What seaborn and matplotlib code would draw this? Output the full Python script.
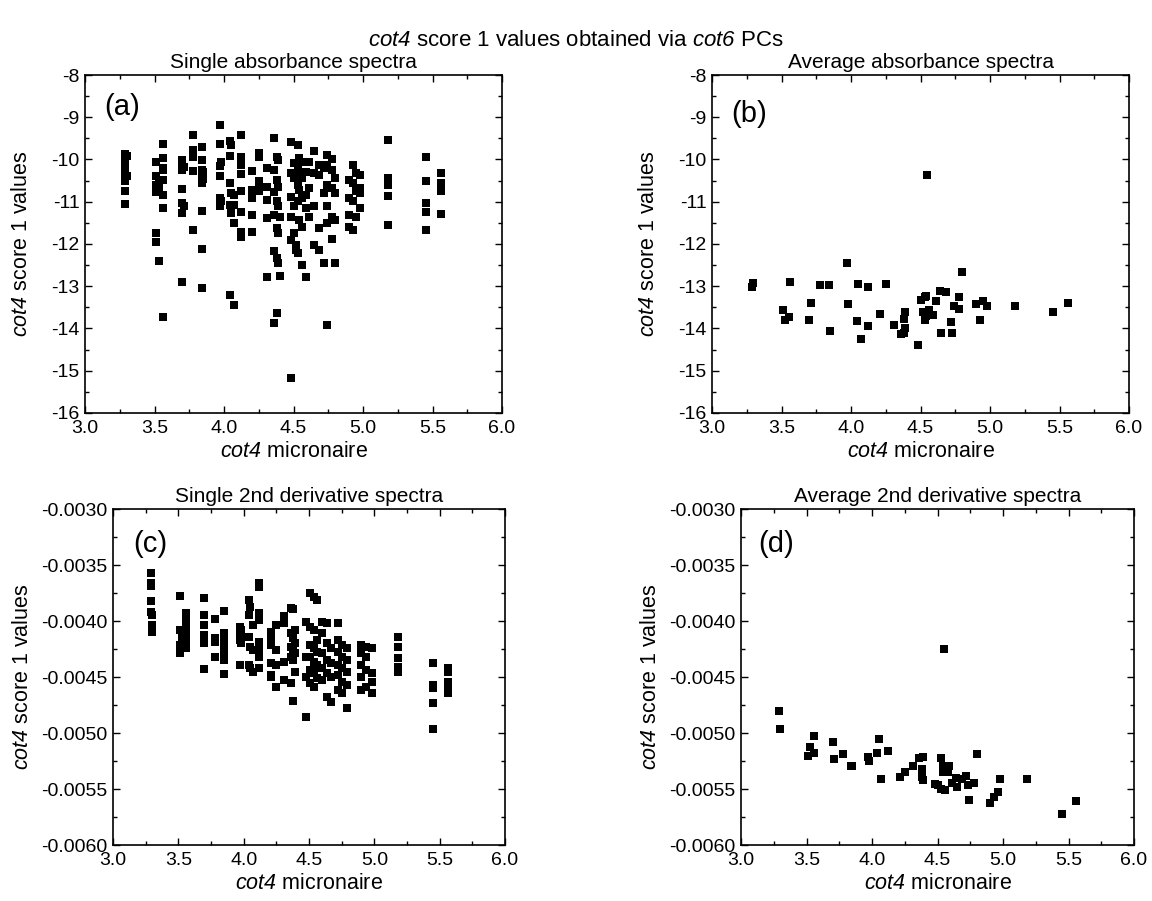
import numpy as np
import pandas as pd
import matplotlib
matplotlib.use("Agg")
import matplotlib.pyplot as plt
import seaborn as sns
from matplotlib.ticker import MultipleLocator, FormatStrFormatter

# ---------------- data ----------------
# (a) single absorbance spectra
single_abs_x = (
    [3.29] * 8 + [3.30] * 2 + [3.51] * 6 + [3.53] * 3 + [3.56] * 8 + [3.70] * 7 + [3.71] * 2
    + [3.78] * 5 + [3.84] * 8 + [3.85] * 2 + [3.97] * 6 + [3.98] * 2 + [4.04] * 5 + [4.05] * 3
    + [4.07] * 4 + [4.12] * 9 + [4.20] * 5 + [4.25] * 5 + [4.31] * 5 + [4.36] * 6 + [4.38] * 6
    + [4.39] * 5 + [4.40] * 2 + [4.48] * 6 + [4.50] * 4 + [4.52] * 2 + [4.53] * 5 + [4.54] * 4
    + [4.56] * 5 + [4.59] * 4 + [4.61] * 3 + [4.65] * 4 + [4.68] * 4 + [4.72] * 3 + [4.74] * 6
    + [4.78] * 5 + [4.80] * 4 + [4.90] * 4 + [4.93] * 4 + [4.95] * 3 + [4.98] * 4 + [5.18] * 5
    + [5.45] * 5 + [5.56] * 5
)
single_abs_y = [
    -9.87, -10.05, -10.25, -10.33, -10.44, -10.52, -10.74, -11.06,
    -9.92, -10.38,
    -10.05, -10.40, -10.60, -10.76, -11.75, -11.96,
    -10.48, -10.68, -12.40,
    -9.64, -9.97, -10.20, -10.24, -10.48, -10.85, -11.14, -13.73,
    -10.02, -10.10, -10.24, -10.69, -11.03, -11.27, -12.89,
    -10.18, -11.10,
    -9.41, -9.77, -9.94, -10.28, -11.68,
    -9.71, -10.01, -10.24, -10.36, -10.56, -11.23, -12.12, -13.03,
    -10.30, -10.45,
    -9.18, -9.63, -10.16, -10.40, -10.91, -11.09,
    -10.05, -10.98,
    -9.57, -9.92, -10.56, -11.07, -13.21,
    -9.66, -10.80, -11.26,
    -10.84, -11.07, -11.51, -13.44,
    -9.43, -9.95, -10.05, -10.13, -10.35, -10.74, -11.25, -11.71, -11.83,
    -10.28, -10.72, -10.92, -11.31, -11.71,
    -9.85, -9.93, -10.52, -10.60, -10.74,
    -10.20, -10.66, -10.95, -11.39, -12.79,
    -9.49, -10.24, -10.76, -11.31, -12.16, -13.86,
    -9.95, -10.48, -10.99, -11.61, -12.34, -13.64,
    -10.01, -10.66, -11.09, -11.75, -12.44,
    -11.37, -12.75,
    -9.58, -10.32, -10.88, -11.35, -11.90, -15.16,
    -10.09, -10.44, -11.09, -11.75,
    -12.02, -12.14,
    -9.65, -10.20, -10.60, -10.99, -12.22,
    -9.97, -10.32, -10.72, -11.43,
    -10.05, -10.44, -10.92, -11.59, -12.50,
    -10.30, -10.85, -11.15, -12.79,
    -10.05, -10.68, -11.35,
    -9.81, -10.32, -11.11, -12.02,
    -10.13, -10.36, -11.63, -12.14,
    -10.20, -10.80, -12.44,
    -9.89, -10.13, -10.60, -11.11, -11.51, -13.92,
    -10.00, -10.24, -10.68, -11.35, -11.87,
    -10.44, -10.80, -11.43, -12.44,
    -10.48, -10.92, -11.31, -11.59,
    -10.13, -10.56, -10.99, -11.67,
    -10.32, -10.74, -11.37,
    -10.37, -10.68, -10.80, -11.15,
    -9.54, -10.44, -10.61, -10.87, -11.55,
    -9.93, -10.50, -11.03, -11.25, -11.67,
    -10.32, -10.56, -10.64, -10.74, -11.29,
]

# (b) average absorbance spectra
avg_abs_x = [3.285, 3.297, 3.561, 3.508, 3.528, 3.556, 3.71, 3.70, 3.78, 3.84, 3.85, 3.97, 3.98,
             4.05, 4.04, 4.12, 4.12, 4.07, 4.21, 4.25, 4.31, 4.36, 4.38, 4.38, 4.39, 4.39, 4.48,
             4.50, 4.53, 4.54, 4.52, 4.53, 4.54, 4.56, 4.59, 4.55, 4.61, 4.64, 4.68, 4.65, 4.72,
             4.73, 4.74, 4.78, 4.78, 4.80, 4.90, 4.95, 4.98, 4.93, 5.18, 5.45, 5.56]
avg_abs_y = [-13.01, -12.93, -12.91, -13.56, -13.79, -13.72, -13.40, -13.81, -12.97, -12.98, -14.07,
             -12.44, -13.43, -12.95, -13.82, -13.01, -13.95, -14.25, -13.66, -12.95, -13.92, -14.14,
             -14.10, -13.78, -13.60, -14.00, -14.40, -13.33, -13.25, -13.24, -13.62, -13.81, -13.70,
             -13.57, -13.69, -10.36, -13.34, -13.11, -13.13, -14.10, -13.84, -14.10, -13.47, -13.25,
             -13.55, -12.67, -13.43, -13.36, -13.47, -13.81, -13.47, -13.60, -13.40]

# (c) single 2nd derivative spectra
single_d2_x = (
    [3.29] * 5 + [3.30] * 4 + [3.51] * 5 + [3.53] * 2 + [3.56] * 9 + [3.70] * 7 + [3.78] * 4
    + [3.85] * 8 + [3.97] * 4 + [3.98] * 3 + [4.04] * 4 + [4.05] * 3 + [4.07] * 3 + [4.12] * 9
    + [4.21] * 6 + [4.25] * 4 + [4.31] * 4 + [4.36] * 5 + [4.38] * 5 + [4.39] * 4 + [4.48] * 4
    + [4.51] * 6 + [4.54] * 6 + [4.56] * 5 + [4.60] * 5 + [4.64] * 5 + [4.67] * 4 + [4.72] * 6
    + [4.75] * 5 + [4.79] * 5 + [4.90] * 5 + [4.94] * 4 + [4.98] * 4 + [5.18] * 5 + [5.45] * 5
    + [5.56] * 6
)
single_d2_y = [
    -0.003574, -0.003664, -0.003688, -0.003818, -0.003917,
    -0.003946, -0.004036, -0.004057, -0.004095,
    -0.003777, -0.004080, -0.004214, -0.004259, -0.004289,
    -0.004120, -0.004180,
    -0.003932, -0.003961, -0.003991, -0.004020, -0.004065, -0.004110, -0.004155, -0.004214, -0.004244,
    -0.003798, -0.003946, -0.004036, -0.004125, -0.004155, -0.004200, -0.004432,
    -0.003985, -0.004155, -0.004185, -0.004318,
    -0.003908, -0.004110, -0.004146, -0.004200, -0.004229, -0.004289, -0.004348, -0.004473,
    -0.004051, -0.004110, -0.004170, -0.004393,
    -0.004080, -0.004140, -0.004200,
    -0.003813, -0.003946, -0.004140, -0.004393,
    -0.003872, -0.004229, -0.004423,
    -0.004036, -0.004259, -0.004452,
    -0.003664, -0.003693, -0.003932, -0.003991, -0.004185, -0.004229, -0.004289, -0.004318, -0.004423,
    -0.004095, -0.004140, -0.004214, -0.004378, -0.004482, -0.004497,
    -0.004036, -0.004259, -0.004393, -0.004586,
    -0.003955, -0.004020, -0.004363, -0.004527,
    -0.003887, -0.004110, -0.004229, -0.004318, -0.004557,
    -0.003896, -0.004155, -0.004259, -0.004348, -0.004711,
    -0.004080, -0.004200, -0.004289, -0.004452,
    -0.004006, -0.004318, -0.004497, -0.004854,
    -0.003747, -0.004051, -0.004214, -0.004318, -0.004438, -0.004557,
    -0.003783, -0.004080, -0.004244, -0.004363, -0.004467, -0.004586,
    -0.003813, -0.004170, -0.004274, -0.004393, -0.004512,
    -0.004006, -0.004110, -0.004289, -0.004423, -0.004527,
    -0.004020, -0.004200, -0.004348, -0.004467, -0.004676,
    -0.004244, -0.004378, -0.004497, -0.004720,
    -0.004015, -0.004170, -0.004274, -0.004393, -0.004482, -0.004616,
    -0.004214, -0.004318, -0.004423, -0.004542, -0.004646,
    -0.004244, -0.004348, -0.004452, -0.004571, -0.004780,
    -0.004214, -0.004289, -0.004393, -0.004497, -0.004616,
    -0.004229, -0.004318, -0.004438, -0.004586,
    -0.004244, -0.004467, -0.004542, -0.004646,
    -0.004146, -0.004229, -0.004333, -0.004408, -0.004452,
    -0.004372, -0.004571, -0.004601, -0.004735, -0.004964,
    -0.004423, -0.004452, -0.004542, -0.004571, -0.004616, -0.004646,
]

# (d) average 2nd derivative spectra
avg_d2_x = [3.29, 3.30, 3.51, 3.53, 3.56, 3.56, 3.70, 3.71, 3.78, 3.84, 3.85, 3.97, 3.98, 4.04,
            4.05, 4.07, 4.12, 4.21, 4.25, 4.31, 4.36, 4.39, 4.38, 4.38, 4.39, 4.48, 4.50, 4.53,
            4.56, 4.53, 4.54, 4.54, 4.58, 4.59, 4.55, 4.61, 4.64, 4.65, 4.69, 4.72, 4.73, 4.74,
            4.78, 4.80, 4.90, 4.93, 4.96, 4.98, 5.18, 5.45, 5.56]
avg_d2_y = [-0.004805, -0.004960, -0.005201, -0.005124, -0.005175, -0.005023, -0.005076, -0.005231,
            -0.005190, -0.005297, -0.005294, -0.005210, -0.005246, -0.005175, -0.005058, -0.005407,
            -0.005157, -0.005389, -0.005347, -0.005294, -0.005225, -0.005216, -0.005324, -0.005392,
            -0.005422, -0.005452, -0.005467, -0.005500, -0.005505, -0.005225, -0.005297, -0.005347,
            -0.005347, -0.005297, -0.004251, -0.005443, -0.005401, -0.005485, -0.005407, -0.005386,
            -0.005467, -0.005595, -0.005443, -0.005184, -0.005622, -0.005571, -0.005526, -0.005410,
            -0.005410, -0.005720, -0.005607]

titles = ["Single absorbance spectra", "Average absorbance spectra",
          "Single 2nd derivative spectra", "Average 2nd derivative spectra"]
letters = ["(a)", "(b)", "(c)", "(d)"]

# ---------------- style ----------------
sns.set_style("ticks")
plt.rcParams.update({
    "font.family": ["Liberation Sans", "DejaVu Sans"],
    "mathtext.fontset": "custom",
    "mathtext.rm": "Liberation Sans:italic",
    "mathtext.it": "Liberation Sans:italic",
    "xtick.direction": "in", "ytick.direction": "in",
    "xtick.top": True, "ytick.right": True,
    "axes.edgecolor": "black", "axes.linewidth": 1.2,
    "xtick.color": "black", "ytick.color": "black",
    "text.color": "black", "axes.labelcolor": "black",
})

fig = plt.figure(figsize=(11.52, 9.01), dpi=100)
W, H = 1152, 901
boxes = [(85, 502, 75, 413), (712, 1129, 75, 413), (113, 505, 509, 845), (741, 1134, 509, 845)]
letter_pos = [(0.088, 0.905), (0.089, 0.885), (0.095, 0.895), (0.09, 0.895)]
ylabel_pads = [14, 14, 6, 6]

data = [(single_abs_x, single_abs_y), (avg_abs_x, avg_abs_y),
        (single_d2_x, single_d2_y), (avg_d2_x, avg_d2_y)]

for i, ((l, r, t, b), (xs, ys)) in enumerate(zip(boxes, data)):
    ax = fig.add_axes([l / W, 1 - b / H, (r - l) / W, (b - t) / H])
    df = pd.DataFrame({"x": xs, "y": ys})
    sns.scatterplot(data=df, x="x", y="y", ax=ax, marker="s", color="black",
                    s=30, linewidth=0, legend=False)
    ax.set_xlim(3.0, 6.0)
    ax.xaxis.set_major_locator(MultipleLocator(0.5))
    ax.xaxis.set_minor_locator(MultipleLocator(0.25))
    ax.xaxis.set_major_formatter(FormatStrFormatter("%.1f"))
    if i < 2:
        ax.set_ylim(-16, -8)
        ax.yaxis.set_major_locator(MultipleLocator(1))
        ax.yaxis.set_minor_locator(MultipleLocator(0.5))
        ax.yaxis.set_major_formatter(FormatStrFormatter("%d"))
    else:
        ax.set_ylim(-0.0060, -0.0030)
        ax.yaxis.set_major_locator(MultipleLocator(0.0005))
        ax.yaxis.set_minor_locator(MultipleLocator(0.00025))
        ax.yaxis.set_major_formatter(FormatStrFormatter("%.4f"))
    ax.tick_params(which="both", direction="in", top=True, right=True, labelsize=14,
                   width=1.0)
    ax.tick_params(axis="x", which="major", pad=5)
    ax.tick_params(axis="y", which="major", pad=4)
    ax.tick_params(which="major", length=5)
    ax.tick_params(which="minor", length=3)
    for sp in ax.spines.values():
        sp.set_visible(True)
        sp.set_linewidth(1.2)
    ax.set_xlabel(r"$cot4$ micronaire", fontsize=15.5, labelpad=3)
    ax.set_ylabel(r"$cot4$ score 1 values", fontsize=15.5, labelpad=ylabel_pads[i])
    ax.set_title(titles[i], fontsize=15, pad=5)
    ax.text(letter_pos[i][0], letter_pos[i][1], letters[i], transform=ax.transAxes,
            fontsize=21, ha="center", va="center")

fig.text(0.5, 1 - 40 / H, r"$cot4$ score 1 values obtained via $cot6$ PCs",
         ha="center", va="center", fontsize=16)

fig.savefig("out.png", dpi=100)
